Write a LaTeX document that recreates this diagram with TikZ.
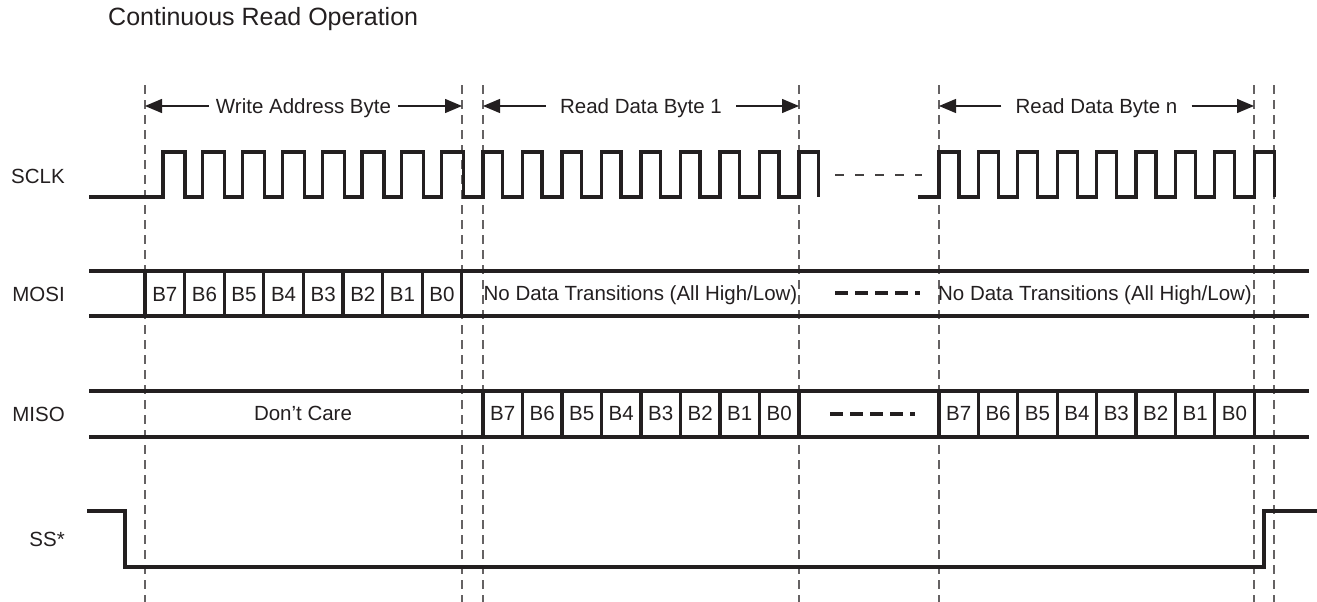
\documentclass[tikz,border=0pt]{standalone}
\usepackage{fontspec}
\setmainfont{Liberation Sans}
\usetikzlibrary{arrows.meta,positioning,calc}
\definecolor{ink}{HTML}{231F20}

\begin{document}
\begin{tikzpicture}[
    x=1pt, y=-1pt,
    signal/.style={line width=3.2pt, draw=ink},
    guide/.style={line width=1.3pt, draw=ink!70, dash pattern=on 9pt off 6pt},
    gapdash/.style={line width=1.3pt, draw=ink!85, dash pattern=on 9pt off 11pt},
    busdash/.style={line width=4pt, draw=ink, dash pattern=on 13pt off 7pt},
    txt/.style={font=\fontsize{20.5}{24}\selectfont, inner sep=0pt, text height=14.7pt, text depth=0pt, text=ink},
    siglabel/.style={txt, anchor=east},
    hdr/.style={txt, inner xsep=14pt},
    bit/.style={txt},
    spanarrow/.style={-{Triangle[length=17pt,width=14pt]}, line width=1.3pt, draw=ink}
]
\useasboundingbox (0,0) rectangle (1317,602);

% Title
\node[txt, anchor=west, font=\fontsize{25}{30}\selectfont, text height=17.9pt] (title) at (108,17) {Continuous Read Operation};

% Byte boundaries
\foreach \x/\n in {145/g1, 462/g2, 483/g3, 799/g4, 939/g5, 1254/g6, 1274/g7} {
    \coordinate (\n) at (\x,106);
    \draw[guide] (\x,85) -- (\x,602);
}

% Byte spans
\node[hdr, inner xsep=7pt] (wab) at (303.5,106) {Write Address Byte};
\node[hdr] (rdb1) at (641,106) {Read Data Byte 1};
\node[hdr] (rdbn) at (1096.5,106) {Read Data Byte n};
\draw[spanarrow] (wab) -- (g1);
\draw[spanarrow] (wab) -- (g2);
\draw[spanarrow] (rdb1) -- (g3);
\draw[spanarrow] (rdb1) -- (g4);
\draw[spanarrow] (rdbn) -- (g5);
\draw[spanarrow] (rdbn) -- (g6);

% Signal names
\node[siglabel] (sclk) at (65,176) {SCLK};
\node[siglabel] (mosi) at (65,294.5) {MOSI};
\node[siglabel] (miso) at (65,414.5) {MISO};
\node[siglabel] (ss) at (65,539.5) {SS*};

% SCLK
\draw[signal] (89,197) -- (163,197)
    \foreach \k in {0,...,7} { -- ({163+39.8*\k},197) -- ({163+39.8*\k},152) -- ({185+39.8*\k},152) -- ({185+39.8*\k},197) }
    -- (483,197)
    \foreach \k in {0,...,8} { -- ({483+39.5*\k},197) -- ({483+39.5*\k},152) -- ({502.5+39.5*\k},152) -- ({502.5+39.5*\k},197) };
\draw[gapdash] (835,175) -- (922,175);
\draw[signal] (918,197)
    \foreach \k in {0,...,8} { -- ({939+39.4*\k},197) -- ({939+39.4*\k},152) -- ({959+39.4*\k},152) -- ({959+39.4*\k},197) };

% MOSI
\draw[signal] (89,271) -- (1309,271);
\draw[signal] (89,316) -- (1309,316);
\foreach \k in {0,...,8}
    \draw[signal] ({145+39.6*\k},271) -- ({145+39.6*\k},316);
\foreach \b [count=\i from 0] in {7,6,...,0}
    \node[bit] (mosib\b) at ({164.8+39.6*\i},294.5) {B\b};
\node[txt] (ndt1) at (640.5,293.5) {No Data Transitions (All High/Low)};
\draw[busdash] (835,293) -- (920,293);
\node[txt] (ndt2) at (1095,293.5) {No Data Transitions (All High/Low)};

% MISO
\draw[signal] (89,391) -- (1309,391);
\draw[signal] (89,437) -- (1309,437);
\node[txt] (dc) at (303,413.5) {Don’t Care};
\foreach \k in {0,...,8} {
    \draw[signal] ({483+39.5*\k},391) -- ({483+39.5*\k},437);
    \draw[signal] ({939+39.4*\k},391) -- ({939+39.4*\k},437);
}
\foreach \b [count=\i from 0] in {7,6,...,0} {
    \node[bit] (misob\b) at ({502.75+39.5*\i},413.5) {B\b};
    \node[bit] (misonb\b) at ({958.7+39.4*\i},413.5) {B\b};
}
\draw[busdash] (830,414) -- (915,414);

% SS*
\draw[signal] (87,511) -- (125,511) -- (125,567) -- (1264,567) -- (1264,511) -- (1317,511);

\end{tikzpicture}
\end{document}
